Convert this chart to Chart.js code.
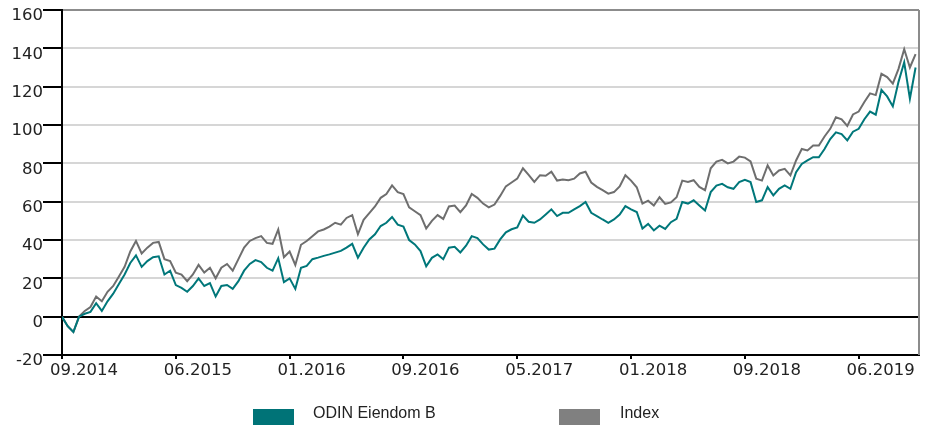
<!DOCTYPE html>
<html>
<head>
<meta charset="utf-8">
<script src="https://cdn.jsdelivr.net/npm/chart.js@4.4.1/dist/chart.umd.min.js"></script>
<style>
    html, body { margin: 0; padding: 0; background: #fff; }
    #wrap { position: relative; width: 931px; height: 425px; }
    #chart { position: absolute; left: 0; top: 0; }
    .legend-box { position: absolute; top: 409px; width: 41px; height: 16px; }
    .legend-text { position: absolute; top: 404px; font-family: "Liberation Sans", Arial, sans-serif; font-size: 16px; color: #222; white-space: nowrap; }
</style>
</head>
<body>
<div id="wrap">
    <canvas id="chart" width="931" height="425"></canvas>
    <div class="legend-box" style="left:253px;background:#007377"></div>
    <div class="legend-text" style="left:313px">ODIN Eiendom B</div>
    <div class="legend-box" style="left:559px;background:#808080"></div>
    <div class="legend-text" style="left:620px">Index</div>
</div>
<script>
// one point per step, 20 steps between date labels
const xTickLabels = ['09.2014', '06.2015', '01.2016', '09.2016', '05.2017', '01.2018', '09.2018', '06.2019'];
const xTickSteps = [0, 20, 40, 60, 80, 100, 120, 140];

const odinValues = [
    0, -5, -8, 0, 1.5, 2.5, 7, 3, 8, 12,
    17, 22, 28, 32, 26, 29, 31, 31.5, 22, 24,
    16.5, 15, 13, 16, 20, 16, 17.5, 10.5, 16, 16.5,
    14.5, 18.5, 24, 27.5, 29.5, 28.5, 25.5, 24, 30.5, 18,
    20, 14.5, 25.5, 26.5, 30, 30.8, 31.7, 32.5, 33.4, 34.3,
    36, 38, 30.8, 36, 40.3, 43, 47.3, 49, 52, 48,
    47, 40, 37.7, 34.2, 26.3, 30.7, 32.5, 30, 36, 36.5,
    33.5, 37, 42, 41, 37.7, 35, 35.5, 40.3, 44, 45.6,
    46.5, 52.8, 49.5, 49, 50.7, 53.3, 56, 52.5, 54.2, 54.2,
    56, 57.7, 59.8, 54.2, 52.5, 50.7, 49, 50.7, 53.3, 57.7,
    56, 54.6, 46, 48.4, 45, 47.5, 45.8, 49.3, 51, 59.8,
    59, 60.7, 58, 55.4, 65, 68.4, 69.3, 67.5, 66.7, 70.2,
    71.4, 70.2, 59.8, 60.7, 67.6, 63.3, 66.7, 68.5, 66.7, 75.4,
    79.7, 81.5, 83.2, 83.2, 87.5, 92.7, 96.2, 95.3, 92, 96.5,
    98, 103, 107, 105.4, 118.3, 114.9, 109.7, 122.5, 132.7, 113.7,
    130
];

const indexValues = [
    0, -5, -8, 0, 3, 5, 10.5, 8, 13, 16,
    21, 26, 34, 39.5, 33, 36, 38.5, 39, 30, 29,
    23, 22, 18.5, 22, 27, 23, 25.5, 20, 25.5, 27.5,
    24, 30, 36, 39.5, 41, 42, 38.5, 38, 45.5, 31,
    34, 27, 37.5, 39.5, 42, 44.5, 45.5, 47, 49, 48,
    51.5, 53, 43, 50.5, 54, 57.5, 62, 64, 68.5, 65,
    64, 57, 55, 53, 46, 50, 53, 51, 57.5, 58,
    54.5, 58, 64, 62, 59, 57, 58.5, 63, 68, 70,
    72, 77.4, 74, 70.3, 73.8, 73.5, 75.6, 71, 71.5, 71.2,
    72, 74.7, 75.6, 70, 67.7, 66, 64.2, 65, 68, 73.8,
    71, 67.5, 59, 60.5, 58, 62.3, 58.8, 59.6, 62.3, 71,
    70.3, 71.2, 67.7, 66, 77.4, 80.9, 81.8, 80, 80.9, 83.5,
    83, 81, 72, 71, 78.9, 73.7, 76.3, 77.1, 73.7, 81.5,
    87.5, 86.7, 89.3, 89.3, 94, 98, 104, 103, 99.5, 105.5,
    107, 112, 116.5, 115.6, 126.7, 125, 121.6, 129.3, 139.5, 130,
    137
];

const toPoints = (values) => values.map((v, i) => ({ x: i, y: v }));

// gray frame on the right side of the plot
const rightBorder = {
    id: 'rightBorder',
    afterDraw(chart) {
        const { ctx, chartArea } = chart;
        ctx.save();
        ctx.strokeStyle = '#8c8c8c';
        ctx.lineWidth = 2;
        ctx.beginPath();
        ctx.moveTo(chartArea.right, chartArea.top);
        ctx.lineTo(chartArea.right, chartArea.bottom);
        ctx.stroke();
        ctx.restore();
    }
};

new Chart(document.getElementById('chart'), {
    type: 'line',
    data: {
        datasets: [
            {
                label: 'ODIN Eiendom B',
                data: toPoints(odinValues),
                borderColor: '#00777a',
                borderWidth: 2,
                pointRadius: 0,
                tension: 0,
                order: 1
            },
            {
                label: 'Index',
                data: toPoints(indexValues),
                borderColor: '#6e6e6e',
                borderWidth: 2,
                pointRadius: 0,
                tension: 0,
                order: 2
            }
        ]
    },
    options: {
        responsive: false,
        animation: false,
        layout: {
            autoPadding: false,
            padding: { top: 10, right: 12, bottom: 40, left: 0 }
        },
        plugins: {
            legend: { display: false },
            tooltip: { enabled: false }
        },
        scales: {
            x: {
                type: 'linear',
                min: 0,
                max: 150.6,
                afterFit: (scale) => { scale.height = 30; },
                afterBuildTicks: (scale) => {
                    scale.ticks = xTickSteps.map(v => ({ value: v }));
                },
                grid: {
                    drawOnChartArea: false,
                    drawTicks: true,
                    tickLength: 4,
                    color: '#000',
                    lineWidth: 2
                },
                border: { color: '#000', width: 2 },
                ticks: {
                    autoSkip: false,
                    maxRotation: 0,
                    labelOffset: 22,
                    padding: 2,
                    color: '#222',
                    font: { family: 'DejaVu Sans', size: 16.5 },
                    callback: (value) => xTickLabels[xTickSteps.indexOf(value)]
                }
            },
            y: {
                min: -20,
                max: 160,
                afterFit: (scale) => { scale.width = 62; },
                grid: {
                    tickLength: 19,
                    tickColor: '#000',
                    lineWidth: 2,
                    color: (ctx) => {
                        const v = ctx.tick.value;
                        if (v === 0) return '#000';
                        if (v === 160) return '#8c8c8c';
                        return '#d6d6d6';
                    }
                },
                border: { color: '#000', width: 2 },
                ticks: {
                    stepSize: 20,
                    padding: 0,
                    labelOffset: 6,
                    color: '#222',
                    font: { family: 'DejaVu Sans', size: 16.5 }
                }
            }
        }
    },
    plugins: [rightBorder]
});
</script>
</body>
</html>
